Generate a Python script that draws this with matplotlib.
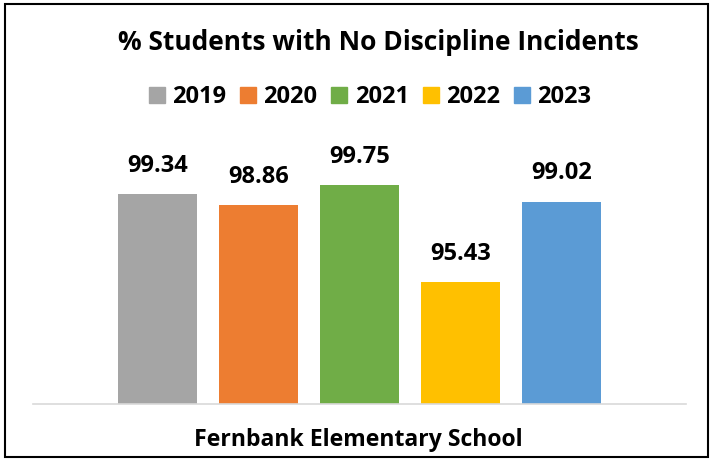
import matplotlib.pyplot as plt
from matplotlib.patches import Patch, Rectangle

years = ["2019", "2020", "2021", "2022", "2023"]
values = [99.34, 98.86, 99.75, 95.43, 99.02]
colors = ["#A5A5A5", "#ED7D31", "#70AD47", "#FFC000", "#5B9BD5"]
title = "% Students with No Discipline Incidents"
category = "Fernbank Elementary School"

plt.rcParams["font.family"] = ["Open Sans", "DejaVu Sans"]

W, H = 713, 461
fig = plt.figure(figsize=(W / 100, H / 100), dpi=100)
fig.patches.append(Rectangle((5 / W, 4 / H), 703 / W, 453 / H, transform=fig.transFigure,
                             fill=False, edgecolor="black", linewidth=1.5))

ax = fig.add_axes([33 / W, (H - 404) / H, 653 / W, 224.5 / H])
x = list(range(len(years)))
bars = ax.bar(x, values, width=0.79, color=colors, bottom=0)
ax.set_ylim(90, 100)
ax.set_xlim(-1.233, 5.233)
for b, v in zip(bars, values):
    ax.annotate(f"{v:.2f}", (b.get_x() + b.get_width() / 2, v), xytext=(0, 20.5),
                textcoords="offset points", ha="center", va="center",
                fontsize=17, fontweight="bold", annotation_clip=False)

ax.set_yticks([])
ax.set_xticks([])
for s in ["top", "left", "right"]:
    ax.spines[s].set_visible(False)
ax.spines["bottom"].set_color("#D9D9D9")
ax.spines["bottom"].set_linewidth(1.2)

fig.text(378 / W, 1 - 43 / H, title, ha="center", va="center", fontsize=19, fontweight="bold")
fig.text(358 / W, 1 - 440 / H, category, ha="center", va="center", fontsize=16.6, fontweight="bold")

handles = [Patch(color=c, label=y) for c, y in zip(colors, years)]
fig.legend(handles=handles, loc="center", bbox_to_anchor=(370 / W, 1 - 97 / H), ncol=5,
           frameon=False, handlelength=0.68, handleheight=0.68, handletextpad=0.3,
           columnspacing=0.6, borderpad=0, prop={"size": 17, "weight": "bold"})

fig.savefig("out.png", dpi=100)
